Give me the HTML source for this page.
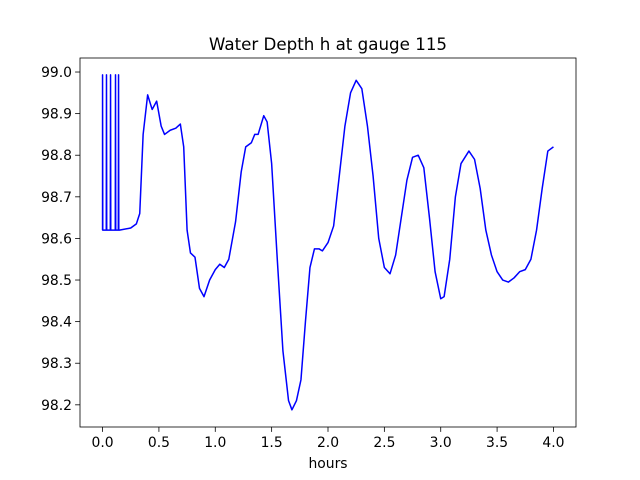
<!DOCTYPE html>
<html><head><meta charset="utf-8"><style>
html,body{margin:0;padding:0;background:#fff;}
svg{display:block;font-family:"DejaVu Sans","Liberation Sans",sans-serif;}
</style></head><body>
<svg id="chart" width="640" height="480" viewBox="0 0 640 480">
<rect width="640" height="480" fill="#fff"/>
<text x="328" y="50" font-size="16.7" text-anchor="middle">Water Depth h at gauge 115</text>
<g id="xt"></g>
<g id="yt"></g>
<path id="line" fill="none" stroke="#0000ff" stroke-width="1.5" stroke-linejoin="round"/>
<rect x="80" y="58" width="496" height="369" fill="none" stroke="#000" stroke-width="0.8"/>
<text x="328" y="468" font-size="13.9" text-anchor="middle">hours</text>
</svg>
<script>
const hours=[0,0,0.002,0.033,0.035,0.037,0.069,0.071,0.073,0.113,0.115,0.117,0.14,0.142,0.144,
0.15,0.25,0.3,0.33,0.36,0.4,0.44,0.48,0.52,0.55,0.6,0.65,0.69,0.72,0.75,0.78,0.82,0.86,0.9,0.95,1.0,1.04,1.08,1.12,1.18,1.23,1.27,1.32,1.35,1.38,1.43,1.46,1.5,1.55,1.6,1.65,1.68,1.72,1.76,1.8,1.84,1.88,1.92,1.95,2.0,2.05,2.1,2.15,2.2,2.25,2.3,2.35,2.4,2.45,2.5,2.55,2.6,2.65,2.7,2.75,2.8,2.85,2.9,2.95,3.0,3.03,3.08,3.13,3.18,3.25,3.3,3.35,3.4,3.45,3.5,3.55,3.6,3.65,3.7,3.75,3.8,3.85,3.9,3.95,4.0];
const depth=[98.62,98.993,98.62,98.62,98.993,98.62,98.62,98.993,98.62,98.62,98.993,98.62,98.62,98.993,98.62,
98.62,98.625,98.635,98.66,98.85,98.945,98.91,98.93,98.87,98.85,98.86,98.865,98.875,98.82,98.62,98.565,98.555,98.48,98.46,98.5,98.525,98.538,98.53,98.55,98.64,98.76,98.82,98.83,98.85,98.85,98.895,98.88,98.78,98.55,98.33,98.21,98.188,98.21,98.26,98.4,98.53,98.575,98.575,98.57,98.59,98.63,98.75,98.87,98.95,98.98,98.96,98.87,98.75,98.6,98.53,98.515,98.56,98.65,98.74,98.795,98.8,98.77,98.65,98.52,98.455,98.46,98.55,98.7,98.78,98.81,98.79,98.72,98.62,98.56,98.52,98.5,98.495,98.505,98.52,98.525,98.55,98.62,98.72,98.81,98.82];
const xTicks=[0,0.5,1,1.5,2,2.5,3,3.5,4];
const yTicks=[98.2,98.3,98.4,98.5,98.6,98.7,98.8,98.9,99.0];
const X0=80,X1=576,Y0=58,Y1=427;
const xmin=-0.2,xmax=4.2,ymin=98.1467,ymax=99.0337;
const sx=v=>X0+(v-xmin)/(xmax-xmin)*(X1-X0);
const sy=v=>Y1-(v-ymin)/(ymax-ymin)*(Y1-Y0);
const NS="http://www.w3.org/2000/svg";
let d="";
hours.forEach((h,i)=>{d+=(i?"L":"M")+sx(h).toFixed(2)+","+sy(depth[i]).toFixed(2);});
document.getElementById("line").setAttribute("d",d);
const xt=document.getElementById("xt"),yt=document.getElementById("yt");
xTicks.forEach(t=>{
 const x=sx(t);
 const l=document.createElementNS(NS,"line");
 
 
 l.setAttribute("x1",x);l.setAttribute("x2",x);l.setAttribute("y1",Y1);l.setAttribute("y2",Y1+4.9);l.setAttribute("stroke","#000");l.setAttribute("stroke-width","0.8");
 xt.appendChild(l);
 const tx=document.createElementNS(NS,"text");
 
 
 tx.setAttribute("x",x);tx.setAttribute("y",Y1+20);tx.setAttribute("font-size","13.9");tx.setAttribute("text-anchor","middle");
 tx.textContent=t.toFixed(1);xt.appendChild(tx);
});
yTicks.forEach(t=>{
 const y=sy(t);
 const l=document.createElementNS(NS,"line");
 
 
 l.setAttribute("x1",X0-4.9);l.setAttribute("x2",X0);l.setAttribute("y1",y);l.setAttribute("y2",y);l.setAttribute("stroke","#000");l.setAttribute("stroke-width","0.8");
 yt.appendChild(l);
 const tx=document.createElementNS(NS,"text");
 
 
 tx.setAttribute("x",X0-8);tx.setAttribute("y",y+5);tx.setAttribute("font-size","13.9");tx.setAttribute("text-anchor","end");
 tx.textContent=t.toFixed(1);yt.appendChild(tx);
});
</script>
</body></html>
